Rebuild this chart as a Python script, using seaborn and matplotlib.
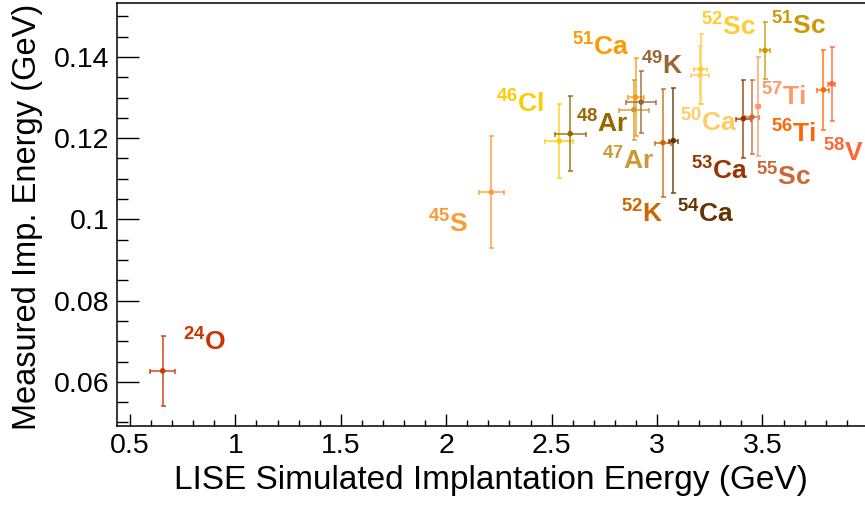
import matplotlib
matplotlib.use("Agg")
import matplotlib.pyplot as plt
from matplotlib.ticker import MultipleLocator
import seaborn as sns
import pandas as pd

# Implantation energies: LISE simulation (x) vs. measured (y), in GeV
nuclei = ["24O", "45S", "46Cl", "48Ar", "47Ar", "51Ca", "49K", "52K", "54Ca",
          "52Sc", "50Ca", "53Ca", "55Sc", "57Ti", "51Sc", "56Ti", "58V"]
sim_energy = [0.655, 2.214, 2.536, 2.588, 2.890, 2.898, 2.925, 3.028, 3.077,
              3.207, 3.204, 3.409, 3.450, 3.480, 3.512, 3.789, 3.829]
sim_err = [0.059, 0.060, 0.067, 0.074, 0.071, 0.038, 0.071, 0.039, 0.021,
           0.030, 0.044, 0.036, 0.032, 0.010, 0.025, 0.028, 0.016]
meas_energy = [0.0627, 0.1067, 0.1193, 0.1211, 0.1270, 0.1301, 0.1289, 0.1189, 0.1194,
               0.1370, 0.1355, 0.1248, 0.1252, 0.1278, 0.1416, 0.1319, 0.1334]
meas_err = [0.0087, 0.0138, 0.0091, 0.0092, 0.0074, 0.0096, 0.0077, 0.0133, 0.0129,
            0.0087, 0.0072, 0.0096, 0.0090, 0.0122, 0.0071, 0.0098, 0.0091]

mass_numbers = ["24", "45", "46", "48", "47", "51", "49", "52", "54",
                "52", "50", "53", "55", "57", "51", "56", "58"]
elements = ["O", "S", "Cl", "Ar", "Ar", "Ca", "K", "K", "Ca",
            "Sc", "Ca", "Ca", "Sc", "Ti", "Sc", "Ti", "V"]
colors = ["#CC3300", "#FF9933", "#FFCC00", "#996600", "#CC9933", "#FF9900", "#996633",
          "#CC6600", "#663300", "#FFCC33", "#FFCC66", "#993300", "#CC6633", "#FF9966",
          "#CC9900", "#FF6600", "#FF6633"]

# where each nucleus name is written (left edge, baseline)
label_x = [0.753, 1.914, 2.236, 2.616, 2.740, 2.597, 2.926, 2.830, 3.096,
           3.210, 3.107, 3.159, 3.471, 3.491, 3.539, 3.539, 3.787]
label_y = [0.0679, 0.0970, 0.1265, 0.1215, 0.1126, 0.1405, 0.1358, 0.0995, 0.0995,
           0.1454, 0.1219, 0.1101, 0.1085, 0.1282, 0.1458, 0.1192, 0.1146]

df = pd.DataFrame({"nucleus": nuclei, "sim": sim_energy, "sim_err": sim_err,
                   "meas": meas_energy, "meas_err": meas_err})
palette = dict(zip(nuclei, colors))

sns.set_style("ticks")
plt.rcParams["font.family"] = ["Liberation Sans", "DejaVu Sans"]
plt.rcParams["mathtext.fontset"] = "custom"
plt.rcParams["mathtext.rm"] = "Liberation Sans"
plt.rcParams["mathtext.bf"] = "Liberation Sans:bold"
for key in ["text.color", "axes.labelcolor", "xtick.color", "ytick.color",
            "axes.edgecolor"]:
    plt.rcParams[key] = "black"

fig = plt.figure(figsize=(8.65, 5.05), dpi=100)
ax = fig.add_axes([0.1349, 0.157, 0.866, 0.8364])

for _, row in df.iterrows():
    ax.errorbar(row["sim"], row["meas"], xerr=row["sim_err"], yerr=row["meas_err"],
                fmt="none", ecolor=palette[row["nucleus"]], alpha=0.75,
                elinewidth=1.3, capsize=1.8, capthick=1.3, zorder=2)

sns.scatterplot(data=df, x="sim", y="meas", hue="nucleus", palette=palette,
                s=16, linewidth=0, legend=False, ax=ax, zorder=3)

for a, el, lx, ly, c in zip(mass_numbers, elements, label_x, label_y, colors):
    ax.text(lx, ly, r"$^{\mathbf{%s}}\mathbf{%s}$" % (a, el), color=c,
            fontsize=19, ha="left", va="baseline")

ax.set_xlim(0.437, 3.99)
ax.set_ylim(0.0492, 0.1532)
ax.xaxis.set_minor_locator(MultipleLocator(0.1))
ax.yaxis.set_minor_locator(MultipleLocator(0.005))
ax.set_xticks([0.5, 1, 1.5, 2, 2.5, 3, 3.5])
ax.set_xticklabels(["0.5", "1", "1.5", "2", "2.5", "3", "3.5"])
ax.set_yticks([0.06, 0.08, 0.1, 0.12, 0.14])
ax.set_yticklabels(["0.06", "0.08", "0.1", "0.12", "0.14"])

ax.tick_params(axis="both", which="both", direction="in", width=1.0, colors="black",
               labelsize=20.5, pad=5)
ax.tick_params(axis="x", which="major", length=9)
ax.tick_params(axis="x", which="minor", length=4.2)
ax.tick_params(axis="y", which="major", length=15.5)
ax.tick_params(axis="y", which="minor", length=7.7)
ax.tick_params(top=False, right=False)

for side in ["left", "bottom", "top"]:
    ax.spines[side].set_linewidth(1.1)
    ax.spines[side].set_color("black")
ax.spines["right"].set_visible(False)

ax.set_xlabel("LISE Simulated Implantation Energy (GeV)", fontsize=24)
ax.set_ylabel("Measured Imp. Energy (GeV)", fontsize=23.5)
ax.xaxis.set_label_coords(0.5, -0.092)
ax.yaxis.set_label_coords(-0.099, 0.4936)

fig.savefig("out.png", dpi=100)
